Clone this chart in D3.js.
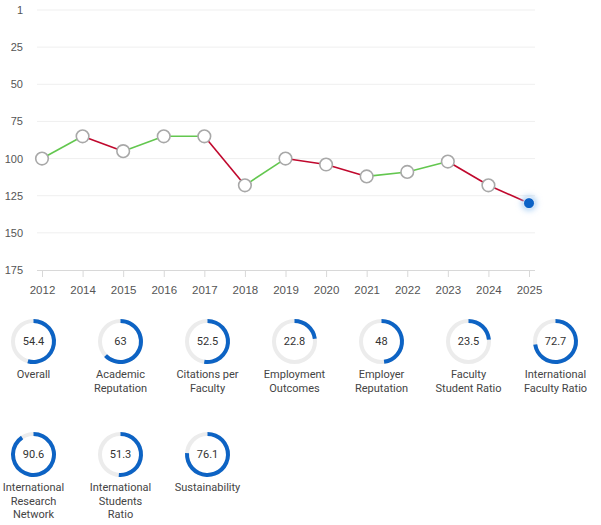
<!DOCTYPE html>
<html>
<head>
<meta charset="utf-8">
<script src="https://cdn.jsdelivr.net/npm/d3@7"></script>
<style>
  body { margin: 0; background: #fff; }
  svg { display: block; font-family: Roboto, "Open Sans", sans-serif; }
</style>
</head>
<body>
<div id="chart"></div>
<script>
// rank history
var years = ["2012", "2014", "2015", "2016", "2017", "2018", "2019", "2020", "2021", "2022", "2023", "2024", "2025"];
var ranks = [100, 85, 95, 85, 85, 118, 100, 104, 112, 109, 102, 118, 130];
var rankTicks = [0, 25, 50, 75, 100, 125, 150, 175];
var rankTickLabels = ["1", "25", "50", "75", "100", "125", "150", "175"];

// score gauges
var scoreNames = ["Overall", "Academic\nReputation", "Citations per\nFaculty", "Employment\nOutcomes",
    "Employer\nReputation", "Faculty\nStudent Ratio", "International\nFaculty Ratio",
    "International\nResearch\nNetwork", "International\nStudents\nRatio", "Sustainability"];
var scoreValues = [54.4, 63, 52.5, 22.8, 48, 23.5, 72.7, 90.6, 51.3, 76.1];

var W = 601, H = 525;

var svg = d3.select("#chart").append("svg")
    .attr("width", W)
    .attr("height", H);

var defs = svg.append("defs");
var glow = defs.append("filter").attr("id", "glow")
    .attr("x", "-100%").attr("y", "-100%").attr("width", "300%").attr("height", "300%");
glow.append("feGaussianBlur").attr("stdDeviation", 3);

//line chart
var x = d3.scalePoint()
    .domain(years)
    .range([42, 529]);

var y = d3.scaleLinear()
    .domain([0, 175])
    .range([10, 270]);

// grid
svg.append("g")
    .selectAll("line")
    .data(rankTicks.slice(0, -1))
    .enter()
    .append("line")
    .attr("x1", 37)
    .attr("x2", 535)
    .attr("y1", d => y(d))
    .attr("y2", d => y(d))
    .attr("stroke", "#efefef")
    .attr("stroke-width", 1);

var yAxis = svg.append("g")
    .attr("transform", "translate(23,0)")
    .call(d3.axisLeft(y).tickValues(rankTicks).tickFormat((d, i) => rankTickLabels[i]).tickSize(0).tickPadding(0));
yAxis.select(".domain").remove();
yAxis.selectAll("text")
    .attr("fill", "#555")
    .style("font-size", "11px");

var xAxis = svg.append("g")
    .attr("transform", "translate(0,270)")
    .call(d3.axisBottom(x).tickSize(7).tickPadding(9).tickSizeOuter(0));
xAxis.select(".domain")
    .attr("d", "M37,0.5H535")
    .attr("stroke", "#d8d8d8");
xAxis.selectAll(".tick line").attr("stroke", "#d8d8d8");
xAxis.selectAll("text")
    .attr("fill", "#555")
    .style("font-size", "11.5px");

// segments coloured by direction
var segs = d3.range(years.length - 1);
svg.append("g")
    .selectAll("line")
    .data(segs)
    .enter()
    .append("line")
    .attr("x1", i => x(years[i]))
    .attr("y1", i => y(ranks[i]))
    .attr("x2", i => x(years[i + 1]))
    .attr("y2", i => y(ranks[i + 1]))
    .attr("stroke", i => ranks[i + 1] <= ranks[i] ? "#63c74f" : "#c0082d")
    .attr("stroke-width", 1.6);

var last = years.length - 1;

svg.append("g")
    .selectAll("circle")
    .data(ranks.slice(0, last))
    .enter()
    .append("circle")
    .attr("cx", (d, i) => x(years[i]))
    .attr("cy", d => y(d))
    .attr("r", 6.3)
    .attr("fill", "#fff")
    .attr("stroke", "#a8a8a8")
    .attr("stroke-width", 1.6);

svg.append("circle")
    .attr("cx", x(years[last]))
    .attr("cy", y(ranks[last]))
    .attr("r", 7)
    .attr("fill", "#9cc7f2")
    .attr("filter", "url(#glow)");
svg.append("circle")
    .attr("cx", x(years[last]))
    .attr("cy", y(ranks[last]))
    .attr("r", 5.5)
    .attr("fill", "#0b62c6")
    .attr("stroke", "#fff")
    .attr("stroke-width", 0.8);

//gauges
var perRow = 7, colW = 87, rowH = 113;
var r = 20.5;
var arc = d3.arc().innerRadius(r - 2).outerRadius(r + 2).startAngle(0);

var g = svg.append("g")
    .selectAll("g")
    .data(scoreValues)
    .enter()
    .append("g")
    .attr("transform", (d, i) => "translate(" + (33.5 + (i % perRow) * colW) + "," + (341.5 + Math.floor(i / perRow) * rowH) + ")");

g.append("circle")
    .attr("r", r)
    .attr("fill", "none")
    .attr("stroke", "#ececec")
    .attr("stroke-width", 4);

g.append("path")
    .attr("d", d => arc({ endAngle: 2 * Math.PI * d / 100 }))
    .attr("fill", "#0d63c4");

g.append("text")
    .attr("text-anchor", "middle")
    .attr("dy", "0.35em")
    .attr("fill", "#333")
    .style("font-size", "11px")
    .text(d => d);

g.append("text")
    .attr("text-anchor", "middle")
    .attr("fill", "#444")
    .style("font-size", "11px")
    .each(function (d, i) {
        var lines = scoreNames[i].split("\n");
        d3.select(this).selectAll("tspan")
            .data(lines)
            .enter()
            .append("tspan")
            .attr("x", 0)
            .attr("y", (l, k) => 36.5 + k * 13.6)
            .text(l => l);
    });
</script>
</body>
</html>
